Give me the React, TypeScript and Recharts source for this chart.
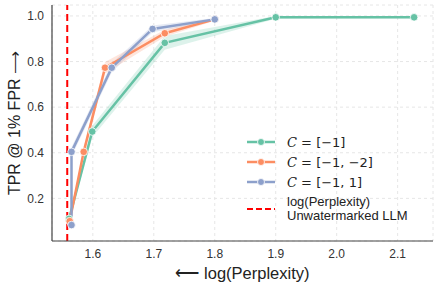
import React from "react";
import {
  ComposedChart,
  Line,
  Area,
  XAxis,
  YAxis,
  CartesianGrid,
  ReferenceLine,
} from "recharts";

const xTicks = [1.6, 1.7, 1.8, 1.9, 2.0, 2.1];
const yTicks = [0.2, 0.4, 0.6, 0.8, 1.0];

const greenX = [1.561, 1.599, 1.718, 1.9, 2.127];
const greenY = [0.11, 0.493, 0.882, 0.994, 0.994];
const greenErr = [0.01, 0.025, 0.03, 0.006, 0.004];

const orangeX = [1.562, 1.585, 1.62, 1.718, 1.8];
const orangeY = [0.1, 0.404, 0.773, 0.924, 0.985];
const orangeErr = [0.01, 0.02, 0.025, 0.015, 0.006];

const blueX = [1.565, 1.565, 1.631, 1.698, 1.8];
const blueY = [0.083, 0.404, 0.773, 0.943, 0.985];
const blueErr = [0.01, 0.02, 0.02, 0.015, 0.006];

const unwatermarkedX = 1.558;

const seriesNames = ["C = [−1]", "C = [−1, −2]", "C = [−1, 1]"];
const legendValues = ["[−1]", "[−1, −2]", "[−1, 1]"];
const colors = ["#66c2a5", "#fc8d62", "#8da0cb"];

const build = (xs: number[], ys: number[], es: number[]) =>
  xs.map((x, i) => ({ x, y: ys[i], band: [ys[i] - es[i], Math.min(ys[i] + es[i], 1.0)] }));

const greenData = build(greenX, greenY, greenErr);
const orangeData = build(orangeX, orangeY, orangeErr);
const blueData = build(blueX, blueY, blueErr);
const allData = [greenData, orangeData, blueData];

const font = "'Liberation Sans', Arial, sans-serif";

const LegendBox = () => (
  <div
    style={{
      position: "absolute",
      left: 247,
      top: 132,
      fontFamily: font,
      fontSize: 13,
      color: "#222",
    }}
  >
    {legendValues.map((v, i) => (
      <div key={i} style={{ display: "flex", alignItems: "center", height: 20 }}>
        <svg width={40} height={20} style={{ display: "block" }}>
          <line x1={0} x2={28} y1={10} y2={10} stroke={colors[i]} strokeWidth={2.5} />
          <circle cx={14} cy={10} r={3.5} fill={colors[i]} stroke="#fff" strokeWidth={0.8} />
        </svg>
        <span style={{ fontFamily: "'DejaVu Sans', sans-serif", fontSize: 13, whiteSpace: "nowrap" }}>
          <i style={{ fontFamily: "'DejaVu Serif', serif" }}>C</i> = {v}
        </span>
      </div>
    ))}
    <div style={{ display: "flex", alignItems: "center", marginTop: 3 }}>
      <svg width={40} height={20} style={{ display: "block" }}>
        <line x1={0} x2={28} y1={10} y2={10} stroke="#ff0000" strokeWidth={2} strokeDasharray="6 3" />
      </svg>
      <div style={{ lineHeight: "14px", fontSize: 13, whiteSpace: "nowrap" }}>
        <div>log(Perplexity)</div>
        <div>Unwatermarked LLM</div>
      </div>
    </div>
  </div>
);

const YLabel = () => (
  <text
    x={14}
    y={123}
    transform="rotate(-90, 14, 123)"
    textAnchor="middle"
    dominantBaseline="central"
    fill="#222"
    fontSize={16}
    fontFamily={font}
  >
    TPR @ 1% FPR ⟶
  </text>
);

export default function App() {
  return (
    <div style={{ position: "absolute", left: 0, top: 0, width: 439, height: 288 }}>
      <ComposedChart
        width={439}
        height={288}
        margin={{ top: 5, right: 6, left: 0, bottom: 0 }}
      >
        <CartesianGrid stroke="#e6e6e6" strokeDasharray="3 3" />
        <XAxis
          type="number"
          dataKey="x"
          domain={[1.533, 2.158]}
          ticks={xTicks}
          tickFormatter={(v: number) => v.toFixed(1)}
          allowDuplicatedCategory={false}
          tickLine={false}
          axisLine={{ stroke: "#444", strokeWidth: 1.2 }}
          tick={{ fill: "#333", fontSize: 12, fontFamily: font }}
          height={47}
          label={{
            value: "⟵ log(Perplexity)",
            position: "insideBottom",
            offset: 9,
            fill: "#222",
            fontSize: 16.5,
            fontFamily: font,
          }}
        />
        <YAxis
          type="number"
          domain={[0.013, 1.048]}
          ticks={yTicks}
          tickFormatter={(v: number) => v.toFixed(1)}
          tickLine={false}
          axisLine={{ stroke: "#444", strokeWidth: 1.2 }}
          tick={{ fill: "#333", fontSize: 12, fontFamily: font }}
          width={52}
          label={<YLabel />}
        />
        {allData.map((d, i) => (
          <Area
            key={"a" + i}
            data={d}
            dataKey="band"
            type="linear"
            stroke="none"
            fill={colors[i]}
            fillOpacity={0.22}
            isAnimationActive={false}
            legendType="none"
            activeDot={false}
          />
        ))}
        <ReferenceLine
          x={unwatermarkedX}
          stroke="#ff0000"
          strokeWidth={2}
          strokeDasharray="7 4"
        />
        {allData.map((d, i) => (
          <Line
            key={"l" + i}
            data={d}
            dataKey="y"
            name={seriesNames[i]}
            type="linear"
            stroke={colors[i]}
            strokeWidth={2.5}
            dot={{ r: 3.8, fill: colors[i], stroke: "#fff", strokeWidth: 0.8 }}
            isAnimationActive={false}
          />
        ))}
      </ComposedChart>
      <LegendBox />
    </div>
  );
}
